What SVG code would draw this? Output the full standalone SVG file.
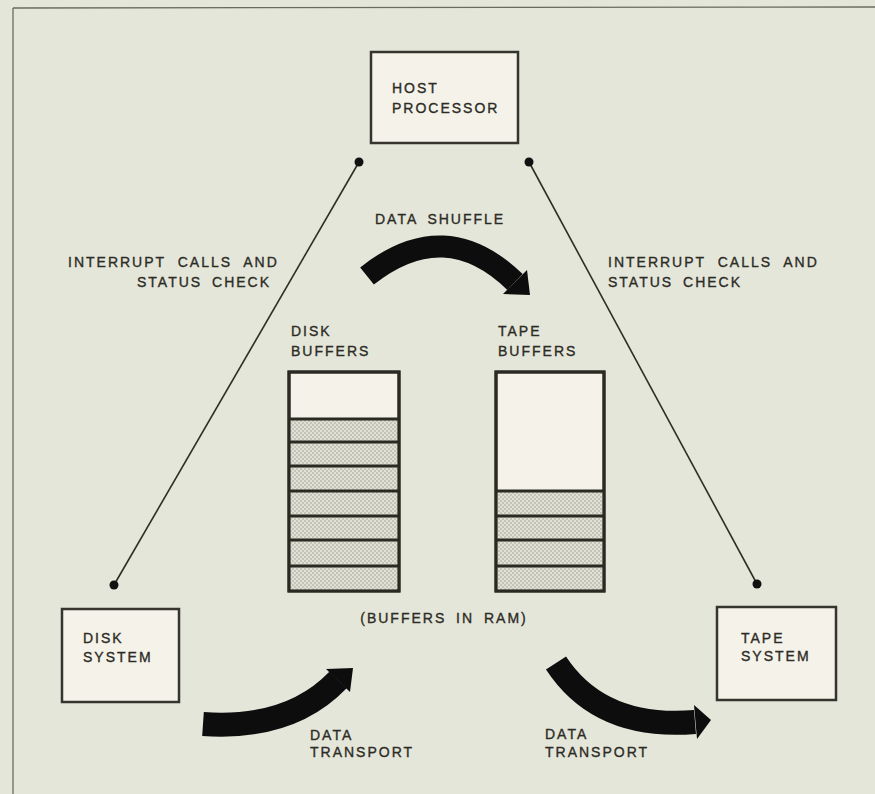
<svg xmlns="http://www.w3.org/2000/svg" width="875" height="794" viewBox="0 0 875 794">
<style>
.t{font-family:"Liberation Sans",Arial,sans-serif;font-size:14px;letter-spacing:2px;word-spacing:4px;fill:#2c2c25;stroke:#2c2c25;stroke-width:0.35}
.box{fill:#f5f2ea;stroke:#35352d;stroke-width:2.5}
.ln{stroke:#2e2e26;stroke-width:1.6;fill:none}
.dot{fill:#111}
.arc{fill:none;stroke:#0d0d0d;stroke-linecap:butt}
.head{fill:#0d0d0d}
.buf{fill:#f5f2ea;stroke:#2a2a22;stroke-width:3}
.sh{fill:url(#dots)}
.sep{stroke:#2a2a22;stroke-width:3}
</style>
<defs>
<pattern id="dots" width="4" height="4" patternUnits="userSpaceOnUse">
<rect width="4" height="4" fill="#e0e0d4"/>
<circle cx="1" cy="1" r="0.8" fill="#a2a298"/>
<circle cx="3" cy="3" r="0.8" fill="#a2a298"/>
</pattern>
</defs>
<rect width="875" height="794" fill="#e5e6da"/>
<g id="frame">
<line x1="13" y1="8" x2="875" y2="7" stroke="#6a6a60" stroke-width="1.3"/>
<line x1="13" y1="8" x2="13" y2="794" stroke="#6a6a60" stroke-width="1.3"/>
</g>
<g id="connectors">
<line class="ln" x1="359" y1="162" x2="114" y2="585"/>
<line class="ln" x1="529" y1="162" x2="757" y2="584"/>
<circle class="dot" cx="359" cy="162" r="4.5"/>
<circle class="dot" cx="529" cy="162" r="4.5"/>
<circle class="dot" cx="114" cy="585" r="4.5"/>
<circle class="dot" cx="757" cy="584" r="4.5"/>
<path class="arc" stroke-width="22" d="M367,276 Q445,214 515,282"/>
<polygon class="head" points="503,294 527,270 530,295"/>
<path class="arc" stroke-width="24" d="M203,724 Q290,730 338,680"/>
<polygon class="head" points="326,669 350,692 353,668"/>
<path class="arc" stroke-width="24" d="M556,663 Q600,730 695,722"/>
<polygon class="head" points="694,705 697,739 711,720"/>
</g>
<g id="host">
<rect class="box" x="371" y="52" width="147" height="91"/>
<text class="t" x="392" y="93">HOST</text>
<text class="t" x="392" y="113">PROCESSOR</text>
</g>
<g id="disk">
<rect class="box" x="62" y="609" width="117" height="93"/>
<text class="t" x="83" y="643">DISK</text>
<text class="t" x="83" y="662">SYSTEM</text>
</g>
<g id="tape">
<rect class="box" x="717" y="607" width="119" height="93"/>
<text class="t" x="741" y="643">TAPE</text>
<text class="t" x="741" y="661">SYSTEM</text>
</g>
<g id="disk-buffers">
<text class="t" x="291" y="336">DISK</text>
<text class="t" x="291" y="356">BUFFERS</text>
<rect class="buf" x="289" y="372" width="110" height="219"/>
<rect class="sh" x="290.5" y="419" width="107" height="170.5"/>
<line class="sep" x1="289" y1="419" x2="399" y2="419"/>
<line class="sep" x1="289" y1="442" x2="399" y2="442"/>
<line class="sep" x1="289" y1="466" x2="399" y2="466"/>
<line class="sep" x1="289" y1="491" x2="399" y2="491"/>
<line class="sep" x1="289" y1="516" x2="399" y2="516"/>
<line class="sep" x1="289" y1="540" x2="399" y2="540"/>
<line class="sep" x1="289" y1="566" x2="399" y2="566"/>
<rect x="289" y="372" width="110" height="219" fill="none" stroke="#2a2a22" stroke-width="3"/>
</g>
<g id="tape-buffers">
<text class="t" x="498" y="336">TAPE</text>
<text class="t" x="498" y="356">BUFFERS</text>
<rect class="buf" x="496" y="372" width="108" height="219"/>
<rect class="sh" x="497.5" y="491" width="105" height="98.5"/>
<line class="sep" x1="496" y1="491" x2="604" y2="491"/>
<line class="sep" x1="496" y1="516" x2="604" y2="516"/>
<line class="sep" x1="496" y1="540" x2="604" y2="540"/>
<line class="sep" x1="496" y1="566" x2="604" y2="566"/>
<rect x="496" y="372" width="108" height="219" fill="none" stroke="#2a2a22" stroke-width="3"/>
</g>
<g id="labels">
<text class="t" x="375" y="224">DATA SHUFFLE</text>
<text class="t" x="68" y="267" style="word-spacing:6px">INTERRUPT CALLS AND</text>
<text class="t" x="137" y="287">STATUS CHECK</text>
<text class="t" x="608" y="267" style="word-spacing:6px">INTERRUPT CALLS AND</text>
<text class="t" x="608" y="287">STATUS CHECK</text>
<text class="t" x="444" y="623" text-anchor="middle">(BUFFERS IN RAM)</text>
<text class="t" x="310" y="740">DATA</text>
<text class="t" x="310" y="757">TRANSPORT</text>
<text class="t" x="545" y="739">DATA</text>
<text class="t" x="545" y="757">TRANSPORT</text>
</g>
</svg>
